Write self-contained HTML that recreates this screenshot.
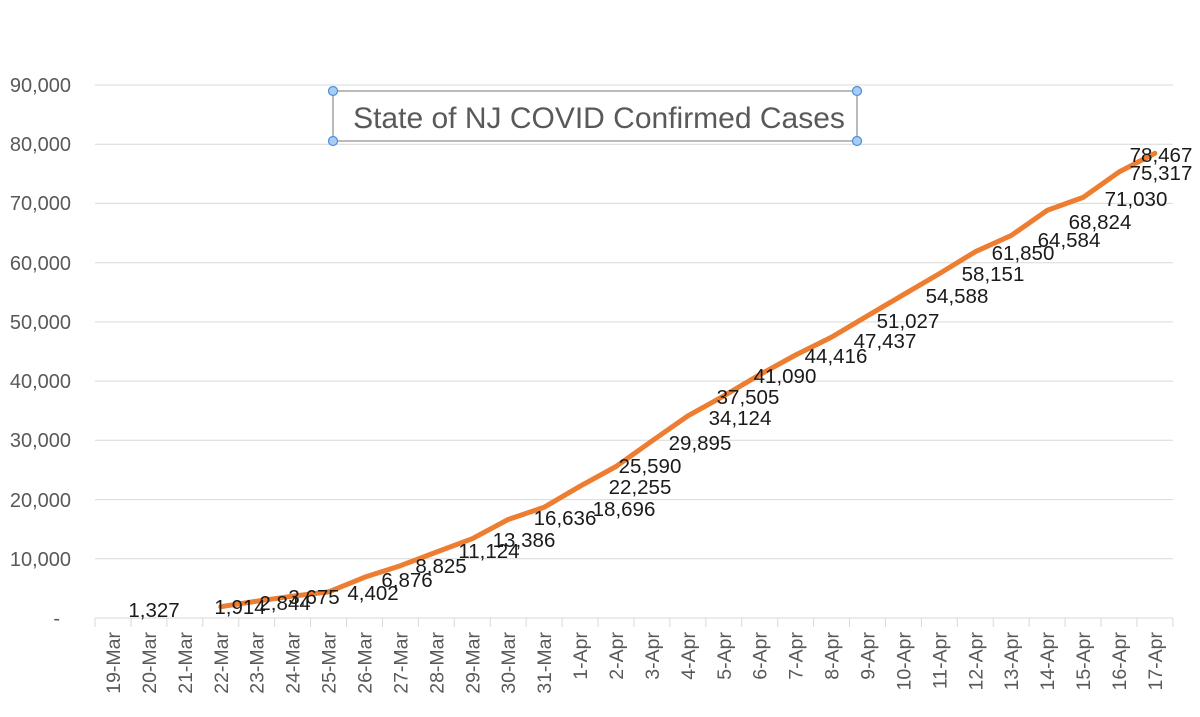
<!DOCTYPE html>
<html><head><meta charset="utf-8"><style>
html,body{margin:0;padding:0;background:#fff;}
svg text{font-family:"Liberation Sans",sans-serif;}
</style></head><body>
<svg width="1200" height="712" viewBox="0 0 1200 712" xmlns="http://www.w3.org/2000/svg">
<g stroke="#d9d9d9" stroke-width="1">
<line x1="95" y1="85" x2="1173" y2="85"/>
<line x1="95" y1="144.2" x2="1173" y2="144.2"/>
<line x1="95" y1="203.4" x2="1173" y2="203.4"/>
<line x1="95" y1="262.7" x2="1173" y2="262.7"/>
<line x1="95" y1="321.9" x2="1173" y2="321.9"/>
<line x1="95" y1="381.1" x2="1173" y2="381.1"/>
<line x1="95" y1="440.3" x2="1173" y2="440.3"/>
<line x1="95" y1="499.6" x2="1173" y2="499.6"/>
<line x1="95" y1="558.8" x2="1173" y2="558.8"/>
<line x1="95" y1="618" x2="1173" y2="618"/>
</g>
<g id="ticks" stroke="#d9d9d9" stroke-width="1"></g>
<g font-size="20" fill="#595959" text-anchor="end">
<text x="71" y="92">90,000</text>
<text x="71" y="151">80,000</text>
<text x="71" y="210">70,000</text>
<text x="71" y="270">60,000</text>
<text x="71" y="329">50,000</text>
<text x="71" y="388">40,000</text>
<text x="71" y="447">30,000</text>
<text x="71" y="507">20,000</text>
<text x="71" y="566">10,000</text>
<text x="60" y="625">-</text>
</g>
<g id="xl" font-size="19.5" fill="#595959" text-anchor="end"></g>
<polyline id="ln" fill="none" stroke="#ed7d31" stroke-width="5" stroke-linejoin="round" stroke-linecap="round"/>
<g id="dl" font-size="20.5" fill="#1a1a1a" text-anchor="middle"></g>
<rect x="333" y="91" width="524" height="50" fill="#fff" stroke="#8c8c8c" stroke-width="1.2"/>
<text x="599" y="128" font-size="30" fill="#595959" text-anchor="middle">State of NJ COVID Confirmed Cases</text>
<g fill="#a9cdf2" stroke="#4a90d9" stroke-width="1.2">
<circle cx="333" cy="91" r="4.5"/><circle cx="857" cy="91" r="4.5"/>
<circle cx="333" cy="141" r="4.5"/><circle cx="857" cy="141" r="4.5"/>
</g>
<script>
var ns="http://www.w3.org/2000/svg";
var dates=["19-Mar","20-Mar","21-Mar","22-Mar","23-Mar","24-Mar","25-Mar","26-Mar","27-Mar","28-Mar","29-Mar","30-Mar","31-Mar","1-Apr","2-Apr","3-Apr","4-Apr","5-Apr","6-Apr","7-Apr","8-Apr","9-Apr","10-Apr","11-Apr","12-Apr","13-Apr","14-Apr","15-Apr","16-Apr","17-Apr"];
var w=35.93,x0=95;
var tk=document.getElementById("ticks"),xl=document.getElementById("xl");
for(var k=0;k<=30;k++){var l=document.createElementNS(ns,"line");var x=x0+w*k;l.setAttribute("x1",x);l.setAttribute("x2",x);l.setAttribute("y1",618);l.setAttribute("y2",627);tk.appendChild(l);}
dates.forEach(function(d,i){var t=document.createElementNS(ns,"text");var cx=x0+w*(i+0.5)+7;t.setAttribute("transform","translate("+cx+",632) rotate(-90)");t.textContent=d;xl.appendChild(t);});
var vals=[1914,2844,3675,4402,6876,8825,11124,13386,16636,18696,22255,25590,29895,34124,37505,41090,44416,47437,51027,54588,58151,61850,64584,68824,71030,75317,78467];
var pts=vals.map(function(v,i){return (x0+w*(i+3.5)).toFixed(1)+","+(618-v*0.005922).toFixed(1);}).join(" ");
document.getElementById("ln").setAttribute("points",pts);
var labs=[["1,327",154,610],["1,914",240,607],["2,844",285,603],["3,675",314,597],["4,402",373,593],["6,876",407,580],["8,825",441,566],["11,124",489,551],["13,386",524,540],["16,636",565,518],["18,696",624,509],["22,255",640,487],["25,590",650,466],["29,895",700,443],["34,124",740,418],["37,505",748,397],["41,090",785,376],["44,416",836,356],["47,437",885,341],["51,027",908,321],["54,588",957,296],["58,151",993,274],["61,850",1023,253],["64,584",1069,240],["68,824",1100,222],["71,030",1136,199],["75,317",1161,173],["78,467",1161,155]];
var dl=document.getElementById("dl");
labs.forEach(function(a){var t=document.createElementNS(ns,"text");t.setAttribute("x",a[1]);t.setAttribute("y",a[2]+7);t.textContent=a[0];dl.appendChild(t);});
</script>
</svg>
</body></html>
